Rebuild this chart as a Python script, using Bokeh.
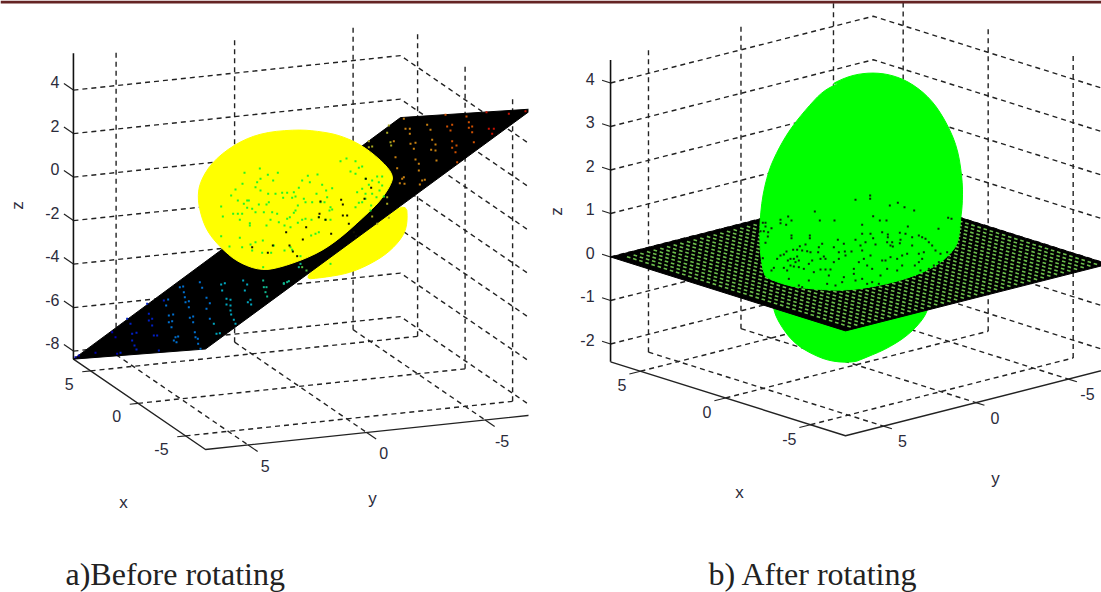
from bokeh.plotting import figure
from bokeh.embed import file_html
from bokeh.resources import INLINE
from bokeh.models import ColumnDataSource, LinearColorMapper
from bokeh.core.properties import value
import math

# ---- panel a) data ----
A_Z_TICKS = [4, 2, 0, -2, -4, -6, -8]
A_XY_TICKS = [5, 0, -5]
A_LIMS = dict(xlo=-7.1, xhi=6.8, ylo=-7.0, yhi=6.8, zlo=-8.37, zhi=5.7)
A_PROJ = dict(c=(298.7, 203.8), ex=(-9.5, -6.5), ey=(-23.7, 2.5), ez=(0, -21.75))
A_PLANE_X = [6.8, -7.1, -7.1, 6.8]
A_PLANE_Y = [6.8, 6.8, -7.0, -7.0]
A_PLANE_Z = [-8.37, -3.75, 5.7, 1.15]
A_SPHERE_UP_X = [297, 263, 237, 213, 200, 197, 201, 208, 222, 238, 260, 280, 313, 337, 367, 380, 390, 393, 383, 362, 340, 320]
A_SPHERE_UP_Y = [129, 132, 142, 160, 180, 197, 217, 233, 249, 262, 270, 267, 255, 240, 213, 200, 185, 175, 162, 145, 135, 131]
A_SPHERE_LO_X = [406, 407, 402, 387, 367, 347, 323, 302, 327, 353, 380]
A_SPHERE_LO_Y = [202, 223, 237, 253, 265, 273, 277, 279, 257, 237, 220]
# dots read from the yellow cap, in 3x crop units (crop origin 180,90)
A_GREEN_ZX = [480,498,525,545,535,525,510,192,238,262,292,382,411,365,388,240,230,225,240,278,186,165,152,172,200,190,205,263,285,305,320,340,355,308,335,345,265,258,235,370,352,345,375,395,408,425,437,455,440,432,450,455,447,420,122,127,158,172,185,178,200,215,225,208,208,250,275,290,270,258,295,312,328,340,320,330,352,365,375,393,415,435,450,405,415,392,122,178,147,185,210,225,247,215,280,245,330,335,312,360,272,248,450,555,605,590,575,565,595,605,545,530,555,575,597,610,588,555,545,535,525,572,570]
A_GREEN_ZY = [212,204,212,228,232,250,243,247,234,253,247,256,252,270,275,265,275,290,300,270,280,297,315,330,330,340,330,310,310,307,307,305,292,322,322,318,335,342,342,325,345,360,335,335,310,283,300,293,320,335,350,357,360,335,348,378,370,370,370,388,352,355,365,398,405,365,365,370,388,405,395,405,380,367,385,410,397,388,385,388,380,388,388,430,425,435,437,442,468,470,462,455,450,480,465,487,470,478,480,497,487,530,520,265,258,258,270,283,275,285,295,305,310,310,300,318,320,325,335,337,350,345,360]
A_BLACK_ZX = [556,572,552,482,487,487,500,420,417,415,435,377,317,367,452,277,327,215,262,337,350,505,527,520]
A_BLACK_ZY = [265,292,325,328,342,375,375,333,370,380,388,410,425,447,430,465,465,470,487,483,497,400,437,425]
# coloured mesh dots on the plane (crop origin 180,90)
A_HOT_ZX = [795,858,918,985,1035,800,815,810,865,875,865,875,925,940,935,755,765,752,765,815,828,815,825,880,768,830,740,750,690,705,700,705,715,715,733,725,718,670,675,688,688,630,640,632,645,650,665,670,658,672,620,625,565,575,565,620,620,575,590,625,360,365,355,378,320,310]
A_HOT_ZY = [73,78,65,70,62,108,103,120,95,108,112,125,115,115,130,148,162,178,180,152,165,172,185,155,210,215,103,118,160,157,175,207,220,240,268,270,282,85,115,115,130,155,152,165,200,233,265,260,278,280,127,105,152,168,170,320,340,378,400,382,520,530,530,540,575,580]
# (crop origin 0,280)
A_COLD_ZX = [225,235,285,350,360,335,345,395,408,395,402,408,380,390,440,445,455,445,455,470,460,475,490,503,497,505,518,505,515,513,525,533,528,520,538,548,550,553,565,555,565,568,578,578,583,585,592,593,600,598,605,618,628,618,628,640,648,658,662,673,665,678,690,678,690,690,692,700,705,728,740,733,750,742,752,798,790,795,800,788,850,865]
A_COLD_ZY = [230,225,217,220,217,155,170,160,157,180,195,207,115,130,70,100,115,120,135,165,165,210,60,57,75,105,102,125,122,140,170,168,185,180,20,18,35,50,62,65,80,112,108,125,155,170,175,190,205,5,22,52,68,85,115,130,160,158,12,8,30,55,58,72,75,90,102,118,130,0,12,30,58,65,72,20,20,35,48,0,8,2]
A_MESH_PALETTE = ["#0000b0", "#0020c8", "#0070d0", "#00a8c0", "#10b890", "#50c040", "#a8a820", "#c88010", "#d05000", "#c81000"]

# ---- panel b) data ----
B_Z_TICKS = [4, 3, 2, 1, 0, -1, -2]
B_XY_TICKS = [5, 0, -5]
B_LIMS = dict(xlo=-7.06, xhi=6.76, ylo=-7.15, yhi=7.05, zlo=-2.41, zhi=4.53)
B_PROJ = dict(c=(855.4, 259.5), ex=(-17, -5.35), ey=(-18.5, 4.7), ez=(0, -43.5))
B_PLANE_X = [6.76, -7.06, -7.06, 6.76]
B_PLANE_Y = [7.05, 7.05, -7.15, -7.15]
B_PLANE_Z = [0, 0, 0, 0]
B_SPHERE_UP_X = [830,850,870,890,910,930,945,957,962,962,960,958,953,937,910,880,847,817,790,767,763,759,760,767,777,790,807,823,840]
B_SPHERE_UP_Y = [84,75,72,74,82,98,120,147,180,203,220,240,250,265,277,285,290,289,286,278,273,247,207,173,150,128,107,90,82]
B_SPHERE_LO_X = [773,780,793,810,830,853,863,887,910,927,927,773]
B_SPHERE_LO_Y = [310,325,342,353,361,362,358,348,333,313,300,300]
# black dots, 3x crop units (crop origin 755,190)
B_DOT_ZX = [300,344,344,403,427,447,476,178,353,98,75,75,92,108,193,237,373,393,320,457,549,578,588,22,30,30,15,25,48,38,37,30,108,108,163,163,320,345,380,397,397,433,450,247,300,353,470,490,500,510,520,530,435,433,410,405,412,395,360,330,315,265,235,200,150,133,113,125,140,155,165,190,188,93,85,75,65,97,105,125,115,130,120,205,210,195,170,160,145,130,115,105,95,85,55,48,22,195,210,225,235,250,250,268,288,270,310,325,320,345,335,350,380,390,405,425,440,455,470,490,500,490,505,540,555,575,580,550,535,520,495,478,440,425,395,375,350,320,295,295,265,260,220,175,160,140,215,240,300,370,335,100,130]
B_DOT_ZY = [28,15,25,45,37,50,60,63,77,78,88,98,103,90,90,90,90,90,103,108,115,82,85,97,97,108,122,122,113,125,138,157,135,143,135,143,130,130,125,132,140,127,130,148,148,143,140,135,140,145,155,165,148,158,155,165,168,155,162,155,165,160,170,160,162,167,178,178,180,182,185,170,185,183,192,195,205,210,205,198,205,210,215,198,205,205,210,220,235,230,228,225,240,232,232,240,203,237,237,237,215,205,185,183,183,195,215,205,180,195,225,235,210,210,200,205,195,190,165,190,205,215,185,180,190,185,200,215,225,235,240,225,225,240,235,255,275,265,235,250,260,275,255,245,270,290,280,285,270,280,280,265,285]
B_MESH_STEP = 0.36

CAPTIONS = ["a)Before rotating", "b) After rotating"]
AXIS_NAMES = ["x", "y", "z"]
RULE_COLOR = "#642323"


def project(P, x, y, z):
    return (P["c"][0] + x * P["ex"][0] + y * P["ey"][0] + z * P["ez"][0],
            P["c"][1] + x * P["ex"][1] + y * P["ey"][1] + z * P["ez"][1])


def crop(ox, oy, zx, zy):
    return [ox + v / 3 for v in zx], [oy + v / 3 for v in zy]


def rounded(xs, ys, rounds=2):
    """Corner-cut an outline so the drawn edge is a curve, as in the picture."""
    pts = list(zip(xs, ys))
    for _ in range(rounds):
        new = []
        for i, a in enumerate(pts):
            b = pts[(i + 1) % len(pts)]
            new.append((0.75 * a[0] + 0.25 * b[0], 0.75 * a[1] + 0.25 * b[1]))
            new.append((0.25 * a[0] + 0.75 * b[0], 0.25 * a[1] + 0.75 * b[1]))
        pts = new
    return [q[0] for q in pts], [q[1] for q in pts]


p = figure(width=1101, height=592, x_range=(0, 1101), y_range=(592, 0),
           output_backend="svg", toolbar_location=None, min_border=0)
p.axis.visible = False
p.grid.visible = False
p.outline_line_color = None

TICK_FONT = value("Liberation Sans")


def panel(P, L, zt, xyt, zlab_dx, zlab_dy, ztick_len, xtick_len, ytick_len,
          xlab_off, ylab_off, labels_xyz):
    xs, ys = [], []

    def seg(*pts):
        q = [project(P, *a) for a in pts]
        xs.append([a[0] for a in q])
        ys.append([a[1] for a in q])

    xlo, xhi, ylo, yhi, zlo, zhi = L["xlo"], L["xhi"], L["ylo"], L["yhi"], L["zlo"], L["zhi"]
    for z in zt:
        seg((xhi, yhi, z), (xhi, ylo, z), (xlo, ylo, z))
    for t in xyt:
        seg((xhi, t, zlo), (xhi, t, zhi))          # verticals on the left wall
        seg((t, ylo, zlo), (t, ylo, zhi))          # verticals on the right wall
        seg((t, yhi, zlo), (t, ylo, zlo))          # floor
        seg((xhi, t, zlo), (xlo, t, zlo))          # floor
    p.multi_line(xs, ys, line_color="#222222", line_width=1.4, line_dash="5 4")

    # ticks
    tx, ty = [], []
    for z in zt:
        a, b = project(P, xhi, yhi, z), project(P, xhi + ztick_len, yhi, z)
        tx.append([a[0], b[0]]); ty.append([a[1], b[1]])
    for t in xyt:
        a, b = project(P, t, yhi, zlo), project(P, t, yhi + xtick_len, zlo)
        tx.append([a[0], b[0]]); ty.append([a[1], b[1]])
        a, b = project(P, xlo, t, zlo), project(P, xlo - ytick_len, t, zlo)
        tx.append([a[0], b[0]]); ty.append([a[1], b[1]])
    p.multi_line(tx, ty, line_color="#222222", line_width=1.2)

    # tick labels
    zp = [project(P, xhi, yhi, z) for z in zt]
    p.text([a[0] + zlab_dx for a in zp], [a[1] + zlab_dy for a in zp], text=[str(z) for z in zt],
           text_font=TICK_FONT, text_font_size="16px", text_color="#2b2b3b",
           text_align="right", text_baseline="middle")
    xp = [project(P, t, yhi, zlo) for t in xyt]
    p.text([a[0] + xlab_off[0] for a in xp], [a[1] + xlab_off[1] for a in xp], text=[str(t) for t in xyt],
           text_font=TICK_FONT, text_font_size="16px", text_color="#2b2b3b",
           text_align="right", text_baseline="middle")
    yp = [project(P, xlo, t, zlo) for t in xyt]
    p.text([a[0] + ylab_off[0] for a in yp], [a[1] + ylab_off[1] for a in yp], text=[str(t) for t in xyt],
           text_font=TICK_FONT, text_font_size="16px", text_color="#2b2b3b",
           text_align="center", text_baseline="middle")
    # axis names
    for name, (lx, ly, ang) in zip(AXIS_NAMES, labels_xyz):
        p.text([lx], [ly], text=[name], angle=ang, text_font=TICK_FONT, text_font_size="17px",
               text_color="#2b2b3b", text_align="center", text_baseline="middle")


def axis_lines(P, L):
    xlo, xhi, ylo, yhi, zlo, zhi = L["xlo"], L["xhi"], L["ylo"], L["yhi"], L["zlo"], L["zhi"]
    a = [project(P, xhi, yhi, zhi), project(P, xhi, yhi, zlo)]
    p.line([q[0] for q in a], [q[1] for q in a], line_color="#111111", line_width=1.6)
    b = [project(P, xhi, yhi, zlo), project(P, xlo, yhi, zlo), project(P, xlo, ylo, zlo)]
    p.line([q[0] for q in b], [q[1] for q in b], line_color="#222222", line_width=1.4)


# ---- panel a
panel(A_PROJ, A_LIMS, A_Z_TICKS, A_XY_TICKS, -14, -8, 1.0, 0.35, 1.0, (-17, 13), (17, 21),
      [(123, 502, 0), (372, 498, 0), (17, 205, math.pi / 2)])
axis_lines(A_PROJ, A_LIMS)
rx, ry = rounded(A_SPHERE_LO_X, A_SPHERE_LO_Y)
p.patch(rx, ry, fill_color="#ffff00", line_color="#ffff00")
qa = [project(A_PROJ, a, b, c) for a, b, c in zip(A_PLANE_X, A_PLANE_Y, A_PLANE_Z)]
p.patch([q[0] for q in qa], [q[1] for q in qa], fill_color="#000000", line_color="#000000")
cx, cy = crop(180, 90, A_HOT_ZX, A_HOT_ZY)
dx, dy = crop(0, 280, A_COLD_ZX, A_COLD_ZY)
mapper = LinearColorMapper(palette=A_MESH_PALETTE, low=73, high=528)
mesh_src = ColumnDataSource(dict(mx=cx + dx, my=cy + dy))
p.rect("mx", "my", width=2, height=2, line_color=None,
       fill_color={"field": "mx", "transform": mapper}, source=mesh_src)
rx, ry = rounded(A_SPHERE_UP_X, A_SPHERE_UP_Y)
p.patch(rx, ry, fill_color="#ffff00", line_color="#ffff00")
gx, gy = crop(180, 90, A_GREEN_ZX, A_GREEN_ZY)
p.rect(gx, gy, width=2, height=2, fill_color="#22f522", line_color=None)
bx, by = crop(180, 90, A_BLACK_ZX, A_BLACK_ZY)
p.rect(bx, by, width=2, height=2, fill_color="#111100", line_color=None)
# the left picture is cut off at its right edge
p.quad(left=[528], right=[560], top=[5], bottom=[540], fill_color="#ffffff", line_color=None)

# ---- panel b
panel(B_PROJ, B_LIMS, B_Z_TICKS, B_XY_TICKS, -16, -4, 0.5, 0.6, 0.5, (-14, 14), (19, 15),
      [(739, 492, 0), (995, 478, 0), (556, 211, math.pi / 2)])
axis_lines(B_PROJ, B_LIMS)
rx, ry = rounded(B_SPHERE_LO_X, B_SPHERE_LO_Y)
p.patch(rx, ry, fill_color="#00ff00", line_color="#00ff00")
qb = [project(B_PROJ, a, b, c) for a, b, c in zip(B_PLANE_X, B_PLANE_Y, B_PLANE_Z)]
p.patch([q[0] for q in qb], [q[1] for q in qb], fill_color="#000000", line_color="#000000")
lx, ly = [], []
n_x = int((B_PLANE_X[0] - B_PLANE_X[1]) / B_MESH_STEP)
n_y = int((B_PLANE_Y[0] - B_PLANE_Y[2]) / B_MESH_STEP)
for i in range(1, n_x):
    for j in range(1, n_y):
        q = project(B_PROJ, B_PLANE_X[1] + i * B_MESH_STEP, B_PLANE_Y[2] + j * B_MESH_STEP, 0)
        lx.append(q[0]); ly.append(q[1])
p.rect(lx, ly, width=3.6, height=1.6, angle=-0.3, fill_color="#6cbf4c", line_color=None)
rx, ry = rounded(B_SPHERE_UP_X, B_SPHERE_UP_Y)
p.patch(rx, ry, fill_color="#00ff00", line_color="#00ff00")
ux, uy = crop(755, 190, B_DOT_ZX, B_DOT_ZY)
p.rect(ux, uy, width=2, height=2, fill_color="#0a2a0a", line_color=None)

# ---- captions and top rule
p.text([65, 708], [573, 573], text=CAPTIONS, text_font=value("Liberation Serif"), text_font_size="32px",
       text_color="#222222", text_align="left", text_baseline="middle")
p.quad(left=[0], right=[1101], top=[0], bottom=[3], fill_color=RULE_COLOR, line_color=None)

open("out.html", "w").write(file_html(p, INLINE))
